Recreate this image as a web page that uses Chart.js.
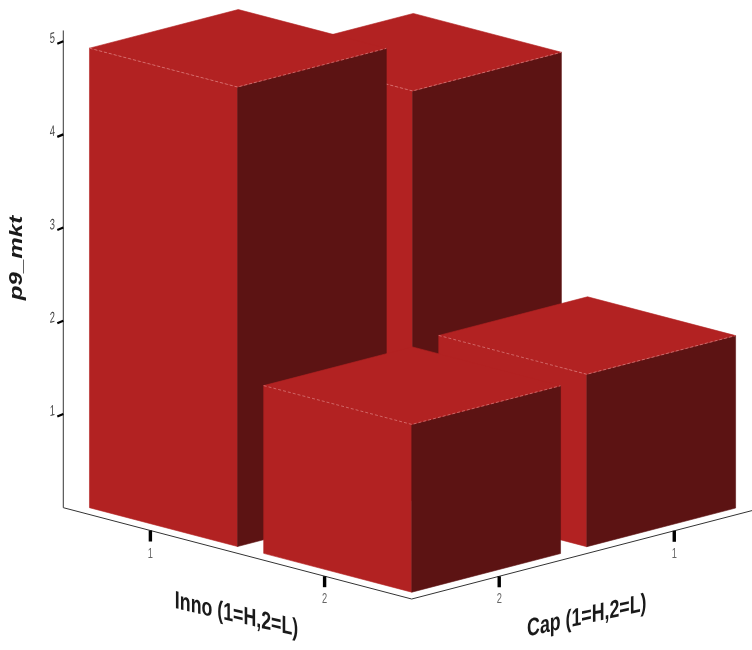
<!DOCTYPE html>
<html>
<head>
<meta charset="utf-8">
<script src="https://cdn.jsdelivr.net/npm/chart.js@4.4.0/dist/chart.umd.min.js"></script>
<style>
  html, body { margin: 0; padding: 0; background: #fff; }
  #wrap { width: 752px; height: 650px; }
</style>
</head>
<body>
<div id="wrap"><canvas id="chart"></canvas></div>
<script>
  // categories
  const innoLevels = [1, 2];
  const capLevels = [1, 2];
  // mean p9_mkt, one array per Cap level, indexed by Inno level
  const cap1Values = [4.40, 1.85];
  const cap2Values = [4.93, 1.80];
  // tick labels
  const valueTicks = [1, 2, 3, 4, 5];
  const innoTickLabels = ['1', '2'];
  const capTickLabels = ['1', '2'];

  const RED = '#b22222';
  const DARK = '#5c1313';
  const HALF = 0.425; // half bar width in category units

  // oblique projection of (inno, cap, value) into the 2D data space of the chart
  const U = { x: 1.869, y: -0.490 }; // one step of Inno
  const V = { x: 1.878, y: 0.488 };  // one step toward lower Cap
  function project(inno, cap, val) {
    const a = inno - 0.5, b = 2.5 - cap;
    return { x: a * U.x + b * V.x, y: val + a * U.y + b * V.y };
  }

  function px(chart, inno, cap, val) {
    const p = project(inno, cap, val);
    return { x: chart.scales.x.getPixelForValue(p.x), y: chart.scales.y.getPixelForValue(p.y) };
  }

  function poly(ctx, pts, color) {
    ctx.beginPath();
    ctx.moveTo(pts[0].x, pts[0].y);
    for (let k = 1; k < pts.length; k++) ctx.lineTo(pts[k].x, pts[k].y);
    ctx.closePath();
    ctx.fillStyle = color;
    ctx.fill();
    ctx.strokeStyle = color;
    ctx.lineWidth = 0.6;
    ctx.stroke();
  }

  // upright letters on a sloped baseline, squeezed horizontally
  function shearText(ctx, text, x, y, sx, slope) {
    ctx.save();
    ctx.translate(x, y);
    ctx.transform(sx, sx * slope, 0, 1, 0, 0);
    ctx.fillText(text, 0, 0);
    ctx.restore();
  }

  const bars3d = {
    id: 'bars3d',
    afterDraw(chart) {
      const ctx = chart.ctx;
      ctx.save();

      // axes
      ctx.strokeStyle = '#333';
      ctx.lineWidth = 1;
      const L0 = px(chart, 0.5, 2.5, 0), LT = px(chart, 0.5, 2.5, 5.12);
      const F = px(chart, 2.5, 2.5, 0), R = px(chart, 2.5, 0.5, 0);
      ctx.beginPath();
      ctx.moveTo(LT.x, LT.y); ctx.lineTo(L0.x, L0.y);
      ctx.lineTo(F.x, F.y); ctx.lineTo(R.x, R.y);
      ctx.stroke();

      // value ticks
      ctx.font = '15px "Liberation Sans", Arial, sans-serif';
      ctx.textAlign = 'center';
      ctx.textBaseline = 'middle';
      valueTicks.forEach(v => {
        const p = px(chart, 0.5, 2.5, v);
        ctx.strokeStyle = '#000';
        ctx.lineWidth = 2.2;
        ctx.beginPath();
        ctx.moveTo(p.x, p.y - 0.5); ctx.lineTo(p.x - 6, p.y + 2);
        ctx.stroke();
        ctx.fillStyle = '#444';
        shearText(ctx, String(v), p.x - 11, p.y - 3, 0.62, -0.26);
      });

      // category ticks
      innoLevels.forEach((lv, k) => {
        const p = px(chart, lv, 2.5, 0);
        ctx.fillStyle = '#000';
        ctx.fillRect(p.x - 1.7, p.y, 3.4, 11);
        ctx.fillStyle = '#666';
        shearText(ctx, innoTickLabels[k], p.x, p.y + 23, 0.62, 0);
      });
      capLevels.forEach((lv, k) => {
        const p = px(chart, 2.5, lv, 0);
        ctx.fillStyle = '#000';
        ctx.fillRect(p.x - 1.7, p.y, 3.4, 11);
        ctx.fillStyle = '#666';
        shearText(ctx, capTickLabels[k], p.x, p.y + 23, 0.62, 0);
      });

      // bars, back to front
      const bars = [];
      innoLevels.forEach((inno, k) => {
        bars.push({ inno, cap: 1, val: cap1Values[k] });
        bars.push({ inno, cap: 2, val: cap2Values[k] });
      });
      bars.sort((a, b) => (a.inno + a.cap) - (b.inno + b.cap));
      bars.forEach(b => {
        const i0 = b.inno - HALF, i1 = b.inno + HALF;
        const c0 = b.cap - HALF, c1 = b.cap + HALF;
        const h = b.val;
        const front = [px(chart, i0, c1, 0), px(chart, i1, c1, 0), px(chart, i1, c1, h), px(chart, i0, c1, h)];
        const side = [px(chart, i1, c1, 0), px(chart, i1, c0, 0), px(chart, i1, c0, h), px(chart, i1, c1, h)];
        const top = [px(chart, i0, c1, h), px(chart, i1, c1, h), px(chart, i1, c0, h), px(chart, i0, c0, h)];
        poly(ctx, front, RED);
        poly(ctx, side, DARK);
        poly(ctx, top, RED);
        // faint light edges on the top
        ctx.strokeStyle = 'rgba(255,190,190,0.55)';
        ctx.lineWidth = 0.8;
        ctx.setLineDash([3, 2]);
        ctx.beginPath();
        ctx.moveTo(top[0].x, top[0].y); ctx.lineTo(top[1].x, top[1].y); ctx.lineTo(top[2].x, top[2].y);
        ctx.stroke();
        ctx.setLineDash([]);
      });

      // axis titles
      ctx.fillStyle = '#1a1a1a';
      ctx.font = 'bold 25px "Liberation Sans", Arial, sans-serif';
      const im = px(chart, 1.5, 2.5, 0);
      shearText(ctx, 'Inno (1=H,2=L)', im.x - 1, im.y + 62, 0.71, 0.23);
      const cm = px(chart, 2.5, 1.5, 0);
      shearText(ctx, 'Cap (1=H,2=L)', cm.x, cm.y + 63, 0.71, -0.22);

      ctx.font = 'italic bold 19px "Liberation Sans", Arial, sans-serif';
      ctx.save();
      ctx.translate(17, 258);
      ctx.rotate(-Math.PI / 2);
      ctx.scale(1.27, 1);
      ctx.fillText('p9_mkt', 0, 0);
      ctx.restore();

      ctx.restore();
    }
  };

  new Chart(document.getElementById('chart').getContext('2d'), {
    type: 'scatter',
    data: { datasets: [] },
    options: {
      responsive: true,
      maintainAspectRatio: false,
      animation: false,
      layout: { padding: 0 },
      plugins: { legend: { display: false }, tooltip: { enabled: false } },
      scales: {
        x: { type: 'linear', display: false, min: -0.679, max: 7.389 },
        y: { type: 'linear', display: false, min: -1.527, max: 5.447 }
      }
    },
    plugins: [bars3d]
  });
</script>
</body>
</html>
